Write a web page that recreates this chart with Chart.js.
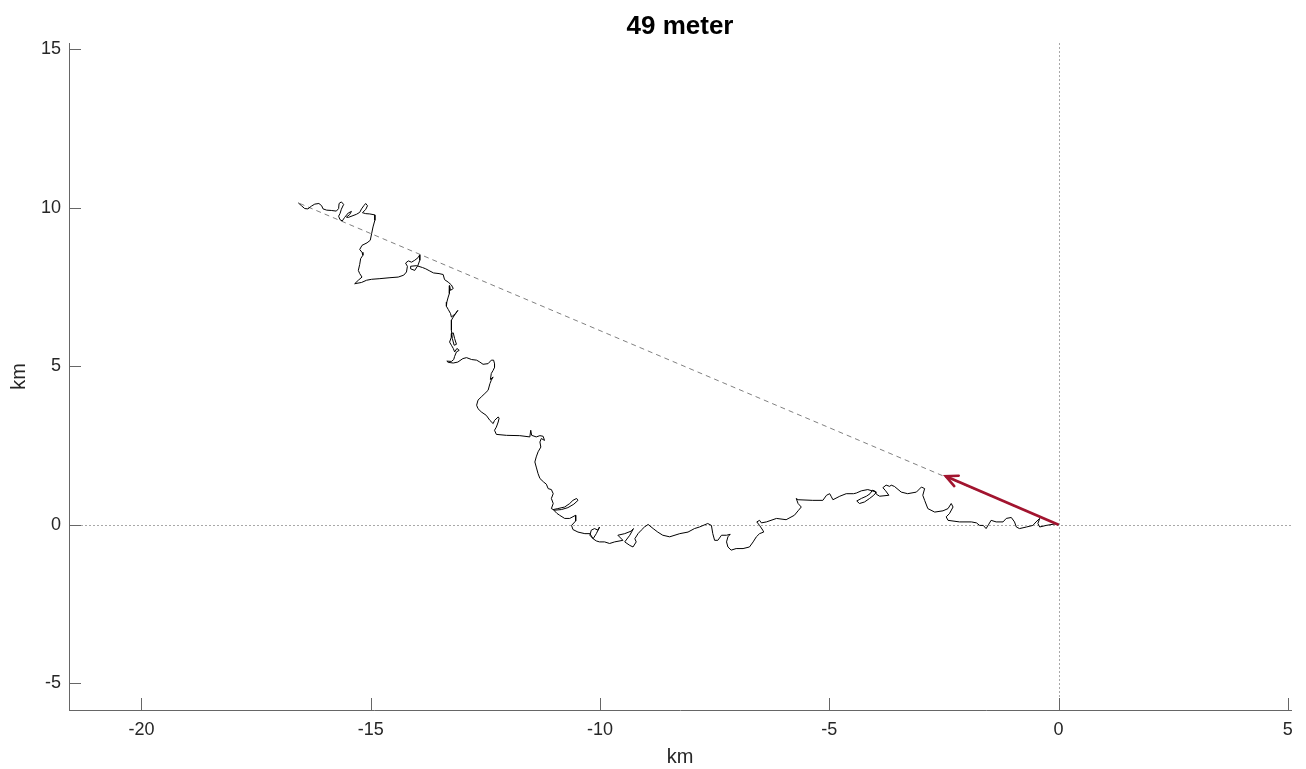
<!DOCTYPE html>
<html>
<head>
<meta charset="utf-8">
<script src="https://cdn.jsdelivr.net/npm/chart.js@4.4.1/dist/chart.umd.min.js"></script>
<style>
  html, body { margin: 0; background: #fff; }
</style>
</head>
<body>
<canvas id="chart" width="1306" height="769"></canvas>
<script>
// progressive vector track, km (end point first, origin last)
const trackX = [
  -16.58,-16.51,-16.44,-16.37,-16.29,-16.22,-16.13,-16.07,-16.04,-15.96,
  -15.86,-15.75,-15.70,-15.69,-15.64,-15.59,-15.64,-15.67,-15.70,-15.67,
  -15.62,-15.57,-15.49,-15.42,-15.46,-15.53,-15.49,-15.31,-15.24,-15.20,
  -15.15,-15.11,-15.07,-15.11,-15.18,-15.11,-15.02,-14.91,-14.91,-14.95,
  -14.98,-15.01,-15.08,-15.19,-15.24,-15.19,-15.17,-15.22,-15.24,-15.27,
  -15.24,-15.19,-15.27,-15.35,-15.20,-15.09,-14.98,-14.80,-14.58,-14.40,
  -14.28,-14.22,-14.20,-14.24,-14.18,-14.11,-14.04,-13.97,-13.93,-13.93,
  -13.97,-14.04,-14.13,-14.13,-14.00,-13.87,-13.80,-13.71,-13.63,-13.51,
  -13.42,-13.39,-13.31,-13.24,-13.20,-13.26,-13.28,-13.29,-13.28,-13.31,
  -13.34,-13.35,-13.31,-13.26,-13.24,-13.15,-13.10,-13.20,-13.24,-13.24,
  -13.24,-13.22,-13.18,-13.13,-13.17,-13.20,-13.24,-13.24,-13.28,-13.24,
  -13.20,-13.17,-13.12,-13.07,-13.13,-13.17,-13.19,-13.24,-13.34,-13.31,
  -13.20,-13.10,-12.99,-12.91,-12.80,-12.69,-12.62,-12.55,-12.44,-12.37,
  -12.32,-12.30,-12.30,-12.33,-12.37,-12.39,-12.33,-12.37,-12.40,-12.44,
  -12.51,-12.59,-12.66,-12.69,-12.66,-12.59,-12.48,-12.40,-12.33,-12.30,
  -12.22,-12.20,-12.22,-12.26,-12.30,-12.26,-12.04,-11.75,-11.53,-11.51,
  -11.49,-11.39,-11.31,-11.24,-11.21,-11.28,-11.31,-11.29,-11.35,-11.39,
  -11.42,-11.39,-11.35,-11.31,-11.23,-11.17,-11.13,-11.06,-11.02,-11.06,
  -11.02,-11.06,-10.99,-10.84,-10.70,-10.57,-10.48,-10.51,-10.59,-10.66,
  -10.77,-10.92,-11.02,-10.94,-10.88,-10.77,-10.66,-10.53,-10.53,-10.62,
  -10.59,-10.48,-10.33,-10.22,-10.15,-10.22,-10.19,-10.12,-10.04,-10.01,
  -10.08,-10.15,-10.08,-10.01,-9.90,-9.79,-9.68,-9.50,-9.61,-9.46,
  -9.32,-9.27,-9.35,-9.46,-9.35,-9.28,-9.21,-9.24,-9.17,-9.10,
  -9.03,-8.95,-8.84,-8.74,-8.63,-8.48,-8.26,-8.08,-7.94,-7.83,
  -7.65,-7.57,-7.54,-7.50,-7.43,-7.35,-7.24,-7.16,-7.21,-7.24,
  -7.21,-7.14,-7.03,-6.88,-6.74,-6.66,-6.59,-6.52,-6.43,-6.45,
  -6.52,-6.58,-6.52,-6.48,-6.37,-6.15,-5.94,-5.76,-5.68,-5.61,
  -5.68,-5.72,-5.68,-5.36,-5.14,-5.06,-4.99,-4.96,-4.92,-4.77,
  -4.63,-4.47,-4.41,-4.30,-4.16,-3.97,-4.03,-4.12,-4.23,-4.34,
  -4.40,-4.30,-4.19,-4.11,-4.06,-4.01,-3.97,-3.90,-3.70,-3.77,
  -3.83,-3.76,-3.68,-3.65,-3.58,-3.43,-3.29,-3.10,-2.99,-2.92,
  -2.96,-2.92,-2.85,-2.70,-2.52,-2.41,-2.34,-2.30,-2.38,-2.45,
  -2.41,-2.16,-1.90,-1.79,-1.72,-1.64,-1.58,-1.52,-1.47,-1.36,
  -1.21,-1.14,-1.03,-0.96,-0.92,-0.85,-0.70,-0.56,-0.49,-0.41,
  -0.45,-0.41,-0.27,-0.02,0
];
const trackY = [
  10.15,10.06,9.97,9.96,10.05,10.11,10.13,10.06,9.96,9.92,
  9.91,9.89,9.97,10.13,10.18,10.10,9.95,9.81,9.73,9.62,
  9.58,9.69,9.83,9.88,9.78,9.70,9.69,9.79,9.85,9.96,
  10.06,10.13,10.06,9.94,9.84,9.81,9.80,9.77,9.60,9.39,
  9.18,8.97,8.89,8.81,8.68,8.59,8.50,8.39,8.21,8.02,
  7.92,7.81,7.71,7.60,7.64,7.71,7.74,7.76,7.79,7.81,
  7.87,7.97,8.15,8.25,8.32,8.28,8.34,8.42,8.51,8.34,
  8.18,8.02,8.07,8.15,8.17,8.11,8.07,8.00,7.94,7.92,
  7.89,7.73,7.65,7.56,7.45,7.39,7.54,7.36,7.29,7.18,
  7.02,6.89,6.79,6.66,6.55,6.66,6.76,6.55,6.45,6.29,
  6.13,5.87,5.66,5.69,5.87,6.05,6.03,5.92,5.76,5.66,
  5.56,5.45,5.56,5.50,5.45,5.31,5.21,5.15,5.16,5.12,
  5.10,5.13,5.24,5.27,5.21,5.19,5.13,5.06,5.08,5.19,
  5.19,5.08,4.96,4.87,4.77,4.58,4.66,4.56,4.45,4.24,
  4.14,4.03,3.93,3.77,3.66,3.56,3.45,3.29,3.19,3.29,
  3.40,3.36,3.24,3.08,2.98,2.85,2.82,2.81,2.77,2.98,
  2.82,2.77,2.81,2.79,2.66,2.72,2.61,2.45,2.30,2.14,
  1.98,1.82,1.61,1.46,1.35,1.28,1.14,1.11,0.98,0.83,
  0.67,0.51,0.46,0.48,0.54,0.65,0.77,0.83,0.77,0.67,
  0.56,0.51,0.48,0.36,0.30,0.20,0.20,0.30,0.12,-0.02,
  -0.15,-0.23,-0.28,-0.28,-0.44,-0.33,-0.17,-0.12,-0.17,-0.07,
  -0.28,-0.44,-0.51,-0.54,-0.54,-0.59,-0.54,-0.49,-0.33,-0.28,
  -0.20,-0.12,-0.33,-0.54,-0.65,-0.70,-0.54,-0.44,-0.28,-0.17,
  -0.07,0.01,-0.12,-0.23,-0.33,-0.38,-0.28,-0.23,-0.12,-0.07,
  0.04,-0.02,-0.28,-0.49,-0.49,-0.33,-0.33,-0.30,-0.38,-0.54,
  -0.70,-0.80,-0.75,-0.75,-0.70,-0.54,-0.38,-0.28,-0.23,-0.17,
  -0.02,0.09,0.14,0.06,0.09,0.20,0.16,0.30,0.44,0.56,
  0.67,0.83,0.79,0.77,0.77,0.93,0.98,0.90,0.79,0.90,
  0.98,0.98,1.00,1.07,1.11,1.03,0.93,0.83,0.72,0.67,
  0.75,0.83,0.90,0.98,1.09,1.07,0.96,0.90,0.93,1.07,
  1.17,1.25,1.21,1.25,1.21,1.03,0.98,1.03,1.19,1.14,
  0.93,0.77,0.51,0.40,0.44,0.51,0.67,0.56,0.35,0.25,
  0.14,0.09,0.09,0.06,-0.02,-0.02,-0.12,0.02,0.14,0.09,
  0.09,0.20,0.23,0.09,-0.07,-0.12,-0.07,-0.02,0.09,0.20,
  0.04,-0.07,-0.02,0.04,0
];

// mean current vector (km), drawn from the origin
const meanU = -2.46;
const meanV = 1.53;

const xTickValues = [-20, -15, -10, -5, 0, 5];
const yTickValues = [-5, 0, 5, 10, 15];
const xLimits = [-21.58, 5.07];
const yLimits = [-5.84, 15.19];
const titleText = '49 meter';

const axisColor = '#666';
const textColor = '#262626';
const arrowColor = '#A2142F';
const fontFamily = '"Liberation Sans", Arial, sans-serif';

const last = trackX.length - 1;
const trackPoints = trackX.map((x, i) => ({ x: x, y: trackY[i] }));

// dotted zero lines under the data
const zeroLines = {
  id: 'zeroLines',
  beforeDatasetsDraw(chart) {
    const { ctx, chartArea: a, scales: { x, y } } = chart;
    const x0 = Math.round(x.getPixelForValue(0)) + 0.5;
    const y0 = Math.round(y.getPixelForValue(0)) + 0.5;
    ctx.save();
    ctx.strokeStyle = '#a8a8a8';
    ctx.lineWidth = 1;
    ctx.setLineDash([2, 2]);
    ctx.beginPath();
    ctx.moveTo(a.left, y0); ctx.lineTo(a.right, y0);
    ctx.moveTo(x0, a.top); ctx.lineTo(x0, a.bottom);
    ctx.stroke();
    ctx.restore();
  }
};

// matlab style inward ticks, and the title centred over the axes
const innerTicks = {
  id: 'innerTicks',
  afterDraw(chart) {
    const { ctx, chartArea: a, scales: { x, y } } = chart;
    ctx.save();
    ctx.strokeStyle = axisColor;
    ctx.lineWidth = 1;
    ctx.beginPath();
    x.ticks.forEach(t => {
      const px = Math.round(x.getPixelForValue(t.value)) + 0.5;
      ctx.moveTo(px, a.bottom); ctx.lineTo(px, a.bottom - 12);
    });
    y.ticks.forEach(t => {
      const py = Math.round(y.getPixelForValue(t.value)) + 0.5;
      ctx.moveTo(a.left, py); ctx.lineTo(a.left + 12, py);
    });
    ctx.stroke();

    ctx.fillStyle = '#000';
    ctx.font = 'bold 26px ' + fontFamily;
    ctx.textAlign = 'center';
    ctx.textBaseline = 'middle';
    ctx.fillText(titleText, (a.left + a.right) / 2, 27);
    ctx.restore();
  }
};

// head of the mean vector arrow
const arrowHead = {
  id: 'arrowHead',
  afterDatasetsDraw(chart) {
    const { ctx, scales: { x, y } } = chart;
    const x0 = x.getPixelForValue(0), y0 = y.getPixelForValue(0);
    const x1 = x.getPixelForValue(meanU), y1 = y.getPixelForValue(meanV);
    const ang = Math.atan2(y1 - y0, x1 - x0);
    const len = 13, spread = 0.45;
    ctx.save();
    ctx.strokeStyle = arrowColor;
    ctx.lineWidth = 2.6;
    ctx.lineCap = 'round';
    ctx.beginPath();
    ctx.moveTo(x1 - len * Math.cos(ang - spread), y1 - len * Math.sin(ang - spread));
    ctx.lineTo(x1, y1);
    ctx.lineTo(x1 - len * Math.cos(ang + spread), y1 - len * Math.sin(ang + spread));
    ctx.stroke();
    ctx.restore();
  }
};

const tickFont = { family: fontFamily, size: 18 };
const labelFont = { family: fontFamily, size: 20 };

new Chart(document.getElementById('chart'), {
  type: 'scatter',
  data: {
    datasets: [
      {
        data: [{ x: 0, y: 0 }, { x: meanU, y: meanV }],
        showLine: true,
        borderColor: arrowColor,
        borderWidth: 2.8,
        pointRadius: 0
      },
      {
        data: trackPoints,
        showLine: true,
        borderColor: '#000',
        borderWidth: 1,
        pointRadius: 0,
        tension: 0
      },
      {
        data: [{ x: trackX[last], y: trackY[last] }, { x: trackX[0], y: trackY[0] }],
        showLine: true,
        borderColor: '#808080',
        borderWidth: 1,
        borderDash: [5, 4],
        pointRadius: 0
      }
    ]
  },
  options: {
    responsive: false,
    animation: false,
    layout: { padding: { left: 0, right: 15, top: 43, bottom: 0 } },
    plugins: {
      legend: { display: false },
      tooltip: { enabled: false },
      title: { display: false }
    },
    scales: {
      x: {
        type: 'linear',
        min: xLimits[0],
        max: xLimits[1],
        afterBuildTicks: s => { s.ticks = xTickValues.map(v => ({ value: v })); },
        afterFit: s => { s.height = 59; },
        grid: { display: false, drawTicks: false },
        border: { display: true, color: axisColor, width: 1 },
        ticks: { autoSkip: false, maxRotation: 0, padding: 9, color: textColor, font: tickFont },
        title: { display: true, text: 'km', color: textColor, font: labelFont, padding: { top: 0, bottom: 0 } }
      },
      y: {
        type: 'linear',
        min: yLimits[0],
        max: yLimits[1],
        afterBuildTicks: s => { s.ticks = yTickValues.map(v => ({ value: v })); },
        afterFit: s => { s.width = 69; },
        grid: { display: false, drawTicks: false },
        border: { display: true, color: axisColor, width: 1 },
        ticks: { autoSkip: false, padding: 8, color: textColor, font: tickFont },
        title: { display: true, text: 'km', color: textColor, font: labelFont, padding: { top: 7, bottom: 0 } }
      }
    }
  },
  plugins: [zeroLines, innerTicks, arrowHead]
});
</script>
</body>
</html>
